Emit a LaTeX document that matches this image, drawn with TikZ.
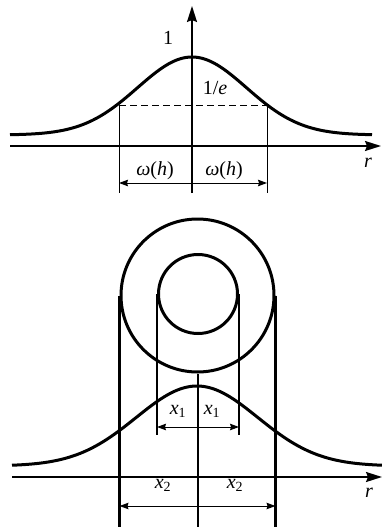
\documentclass[tikz,border=0pt]{standalone}
\usepackage{fontspec}
\setmainfont{Liberation Serif}
\usetikzlibrary{arrows.meta}
\begin{document}
\begin{tikzpicture}[x=1pt,y=-1pt,
  curve/.style={line width=3pt,line join=round},
  axis/.style={line width=1.8pt,-{Stealth[length=16pt,width=10pt,inset=2pt]}},
  thin/.style={line width=0.8pt},
  thick/.style={line width=3pt},
  dimarrow/.style={line width=1pt,-{Stealth[length=9pt,width=6.5pt,inset=1pt]}},
  lbl/.style={font=\fontsize{20}{20}\selectfont,inner sep=0pt}]
\useasboundingbox (0,0) rectangle (382,527);
% ---------- top ----------
\draw[curve] plot[domain=-182:180,samples=120] ({192+\x},{135-78*exp(-(\x/77)^2)});
\draw[thin,dashed,dash pattern=on 7pt off 4pt] (119,105) -- (267,105);
\draw[thin] (119,105) -- (119,193);
\draw[thin] (267,105) -- (267,193);
\draw[axis] (10,146) -- (381,146);
\draw[axis] (192,193) -- (192,6);
\coordinate (C1) at (192,183);
\coordinate (L1) at (119,183);
\coordinate (R1) at (267,183);
\draw[dimarrow] (C1) -- (L1);
\draw[dimarrow] (C1) -- (R1);
\node[lbl] (one) at (168,38) {1};
\node[lbl] (inve) at (215,88) {1/\textit{e}};
\node[lbl] (r1) at (368,163) {\textit{r}};
\node[lbl] (w1) at (155,171) {\textit{ω}(\textit{h})};
\node[lbl] (w2) at (224,171) {\textit{ω}(\textit{h})};
% ---------- bottom ----------
\draw[curve] plot[domain=-185:185,samples=120] ({197+\x},{466-80*exp(-(\x/86)^2)});
\draw[axis] (12,477) -- (382,477);
\node[thick,draw,circle,minimum size=153pt,inner sep=0pt] (outer) at (197.5,295.5) {};
\node[thick,draw,circle,minimum size=79pt,inner sep=0pt] (inner) at (198,294) {};
\draw[thick] (outer.west) -- (outer.west |- 0,527);
\draw[thick] (outer.east) -- (outer.east |- 0,527);
\draw[line width=2.5pt] (inner.west) -- (inner.west |- 0,435);
\draw[line width=2.5pt] (inner.east) -- (inner.east |- 0,435);
\draw[line width=2pt] (outer.south) -- (outer.south |- 0,527);
\coordinate (C2) at (197,427);
\draw[dimarrow] (C2) -- (inner.west |- C2);
\draw[dimarrow] (C2) -- (inner.east |- C2);
\coordinate (C3) at (197,506);
\draw[dimarrow] (C3) -- (outer.west |- C3);
\draw[dimarrow] (C3) -- (outer.east |- C3);
\node[lbl] (xa) at (178,411) {\textit{x}\textsubscript{1}};
\node[lbl] (xb) at (212,411) {\textit{x}\textsubscript{1}};
\node[lbl] (xc) at (163,485) {\textit{x}\textsubscript{2}};
\node[lbl] (xd) at (235,485) {\textit{x}\textsubscript{2}};
\node[lbl] (r2) at (369,493) {\textit{r}};
\end{tikzpicture}
\end{document}
